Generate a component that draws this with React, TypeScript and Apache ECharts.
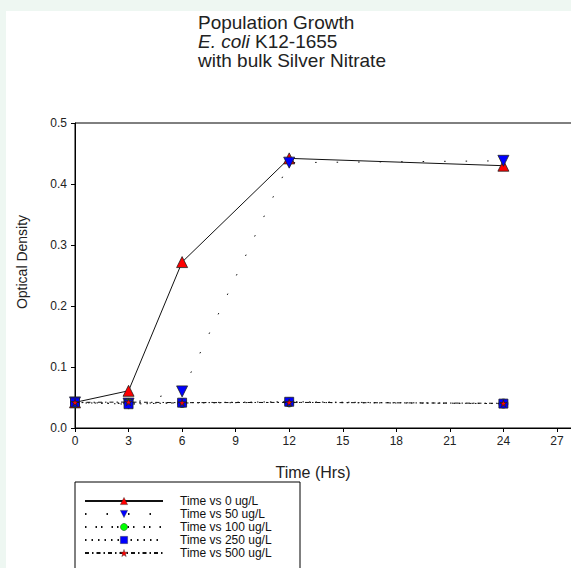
import React, { useEffect, useRef } from "react";
import * as echarts from "echarts";

const hours = [0, 3, 6, 12, 24];
const od0 = [0.042, 0.061, 0.272, 0.442, 0.43];
const od50 = [0.042, 0.04, 0.06, 0.435, 0.438];
const od100 = [0.041, 0.041, 0.041, 0.042, 0.04];
const od250 = [0.042, 0.039, 0.0415, 0.043, 0.04];
const od500 = [0.042, 0.0425, 0.0415, 0.042, 0.0405];
const seriesNames = [
  "Time vs 0 ug/L",
  "Time vs 50 ug/L",
  "Time vs 100 ug/L",
  "Time vs 250 ug/L",
  "Time vs 500 ug/L",
];
const xTicks = [0, 3, 6, 9, 12, 15, 18, 21, 24, 27];
const yTicks = [0, 0.1, 0.2, 0.3, 0.4, 0.5];

const FONT = "'Liberation Sans', Arial, sans-serif";

function pairs(vals: number[]) {
  return hours.map((h, i) => [h, vals[i]]);
}

export default function App() {
  const ref = useRef<HTMLDivElement>(null);
  useEffect(() => {
    if (!ref.current) return;
    const chart = echarts.init(ref.current, undefined, { renderer: "svg" });
    const border = { borderColor: "#222", borderWidth: 0.8 };
    const mk = (
      name: string,
      vals: number[],
      symbol: string,
      size: number,
      color: string,
      line: any,
      z: number,
      rotate = 0
    ) => ({
      type: "line",
      name,
      data: pairs(vals),
      symbol,
      symbolSize: size,
      symbolRotate: rotate,
      showSymbol: true,
      z,
      itemStyle: { color, ...border },
      lineStyle: { color: "#111", width: 1, ...line },
    });
    chart.setOption({
      animation: false,
      backgroundColor: "transparent",
      grid: {
        left: 75,
        top: 123,
        width: 535.5,
        height: 305,
        outerBoundsMode: "none",
        containLabel: false,
        show: true,
        borderColor: "#000",
        borderWidth: 1,
        backgroundColor: "transparent",
      },
      xAxis: {
        type: "value",
        min: 0,
        max: 30,
        interval: 3,
        splitLine: { show: false },
        axisLine: { show: true, lineStyle: { color: "#000", width: 1 } },
        axisTick: { show: true, inside: false, length: 4, lineStyle: { color: "#000" } },
        axisLabel: {
          color: "#222",
          fontSize: 12,
          fontFamily: FONT,
          margin: 7,
          formatter: (v: number) => (xTicks.includes(v) ? String(v) : ""),
        },
      },
      yAxis: {
        type: "value",
        min: 0,
        max: 0.5,
        interval: 0.1,
        splitLine: { show: false },
        axisLine: { show: true, lineStyle: { color: "#000", width: 1 } },
        axisTick: { show: true, inside: false, length: 4, lineStyle: { color: "#000" } },
        axisLabel: {
          color: "#222",
          fontSize: 12,
          fontFamily: FONT,
          margin: 8,
          formatter: (v: number) =>
            yTicks.some((t) => Math.abs(t - v) < 1e-9) ? v.toFixed(1) : "",
        },
      },
      legend: {
        orient: "vertical",
        left: 84,
        top: 495,
        height: 80,
        padding: 0,
        itemWidth: 78,
        itemHeight: 9,
        itemGap: 1,
        data: seriesNames,
        itemStyle: { borderWidth: 0.4 },
        textStyle: {
          color: "#111",
          fontSize: 12,
          lineHeight: 11,
          fontFamily: FONT,
          padding: [0, 0, 0, 12],
        },
      },
      graphic: [
        {
          type: "text",
          left: 198,
          top: 13,
          style: {
            text: "Population Growth\n{i|E. coli} K12-1655\nwith bulk Silver Nitrate",
            fontSize: 19,
            fontFamily: FONT,
            fill: "#222",
            lineHeight: 19,
            rich: {
              i: { fontStyle: "italic", fontSize: 19, fontFamily: FONT, fill: "#222" },
            },
          },
        },
        {
          type: "text",
          x: 313,
          y: 472,
          style: {
            text: "Time (Hrs)",
            fontSize: 16,
            fontFamily: FONT,
            fill: "#222",
            align: "center",
            verticalAlign: "middle",
          },
        },
        {
          type: "text",
          x: 22,
          y: 262,
          rotation: Math.PI / 2,
          style: {
            text: "Optical Density",
            fontSize: 14,
            fontFamily: FONT,
            fill: "#222",
            align: "center",
            verticalAlign: "middle",
          },
        },
        {
          type: "rect",
          shape: { x: 75, y: 482, width: 225, height: 100 },
          style: { fill: "none", stroke: "#000", lineWidth: 1 },
        },
      ],
      series: [
        mk(seriesNames[0], od0, "triangle", 11, "#ff0000", { type: "solid" }, 2),
        mk(seriesNames[1], od50, "triangle", 11, "#0000ff", { type: [1.5, 20] }, 3, 180),
        mk(seriesNames[2], od100, "circle", 9, "#00ff00", { type: [1.5, 9, 1.5, 4] }, 4),
        mk(seriesNames[3], od250, "rect", 9, "#0000ff", { type: [1.5, 5] }, 5),
        mk(seriesNames[4], od500, "path://M50,0 L61,35 L98,35 L68,57 L79,91 L50,70 L21,91 L32,57 L2,35 L39,35 Z", 7, "#ff0000", { type: [4, 3, 1.5, 3] }, 6),
      ],
    });
    return () => chart.dispose();
  }, []);
  return (
    <div
      style={{
        position: "fixed",
        left: 0,
        top: 0,
        width: 571,
        height: 568,
        background: "#eef7f2",
        overflow: "hidden",
      }}
    >
      <div
        style={{
          position: "absolute",
          left: 6,
          top: 11,
          width: 565,
          height: 557,
          background: "#ffffff",
        }}
      />
      <div ref={ref} style={{ position: "absolute", left: 0, top: 0, width: 571, height: 568 }} />
    </div>
  );
}
